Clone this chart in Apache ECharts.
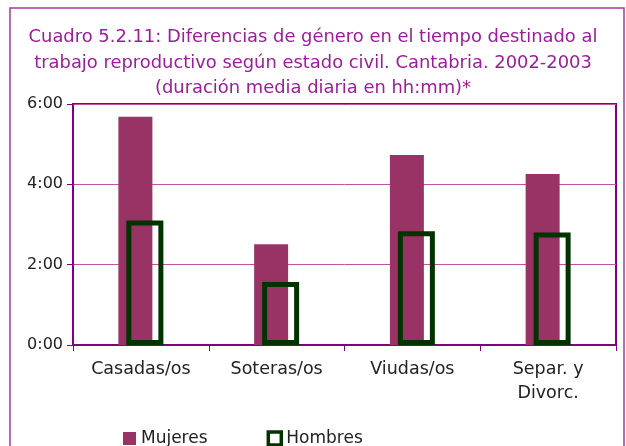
<!DOCTYPE html>
<html>
<head>
<meta charset="utf-8">
<script src="https://cdn.jsdelivr.net/npm/echarts@6/dist/echarts.min.js"></script>
<style>
  html, body { margin: 0; padding: 0; background: #fff; }
  #chart { width: 626px; height: 446px; }
</style>
</head>
<body>
<div id="chart"></div>
<script>
const titleLines = [
  "Cuadro 5.2.11: Diferencias de género en el tiempo destinado al",
  "trabajo reproductivo según estado civil. Cantabria. 2002-2003",
  "(duración media diaria en hh:mm)*"
];
const categories = ["Casadas/os", "Soteras/os", "Viudas/os", "Separ. y\nDivorc."];
// hours (decimal)
const mujeres = [5.68, 2.51, 4.73, 4.26];
const hombres = [3.1, 1.57, 2.83, 2.8];
const yTicks = [0, 2, 4, 6];

const fontFamily = "DejaVu Sans";

function initChart() {
  const chart = echarts.init(document.getElementById("chart"));
  chart.setOption({
    animation: false,
    textStyle: { fontFamily },
    title: {
      text: titleLines.join("\n"),
      left: "center",
      top: 20,
      textStyle: { color: "#9c1c9c", fontSize: 17.9, fontWeight: "normal", lineHeight: 25.5, fontFamily }
    },
    graphic: [{
      type: "rect",
      shape: { x: 10, y: 8, width: 614, height: 460 },
      style: { fill: "none", stroke: "#a33aa8", lineWidth: 1.5 },
      silent: true
    }],
    legend: {
      left: 118,
      top: 425,
      itemWidth: 13,
      itemHeight: 13,
      itemGap: 59,
      textStyle: { color: "#222", fontSize: 17, fontFamily },
      data: [
        { name: "Mujeres", icon: "rect", itemStyle: { color: "#993366", borderWidth: 0 } },
        { name: "Hombres", icon: "rect", itemStyle: { color: "#fff", borderColor: "#003300", borderWidth: 3.5 } }
      ]
    },
    grid: {
      left: 73, right: 10, top: 104, bottom: 101,
      show: true, borderColor: "#800080", borderWidth: 2
    },
    xAxis: {
      type: "category",
      data: categories,
      axisLine: { lineStyle: { color: "#800080", width: 2 } },
      axisTick: { show: true, length: 6, lineStyle: { color: "#800080" } },
      axisLabel: { color: "#222", fontSize: 17.5, lineHeight: 24, margin: 12 }
    },
    yAxis: {
      type: "value",
      min: yTicks[0],
      max: yTicks[yTicks.length - 1],
      interval: 2,
      axisLine: { show: true, lineStyle: { color: "#800080", width: 2 } },
      axisTick: { show: true, length: 6, lineStyle: { color: "#800080" } },
      axisLabel: { color: "#222", fontSize: 16, margin: 10, formatter: v => `${v}:00` },
      splitLine: { lineStyle: { color: "#c8509c", width: 1 } }
    },
    series: [
      {
        name: "Mujeres",
        type: "bar",
        data: mujeres,
        barWidth: 34,
        barGap: "-76.5%",
        itemStyle: { color: "#993366" }
      },
      {
        name: "Hombres",
        type: "bar",
        data: hombres,
        barWidth: 37,
        itemStyle: { color: "rgba(0,0,0,0)", borderColor: "#003300", borderWidth: 5 }
      }
    ]
  });
}

document.addEventListener("DOMContentLoaded", initChart);
</script>
</body>
</html>
